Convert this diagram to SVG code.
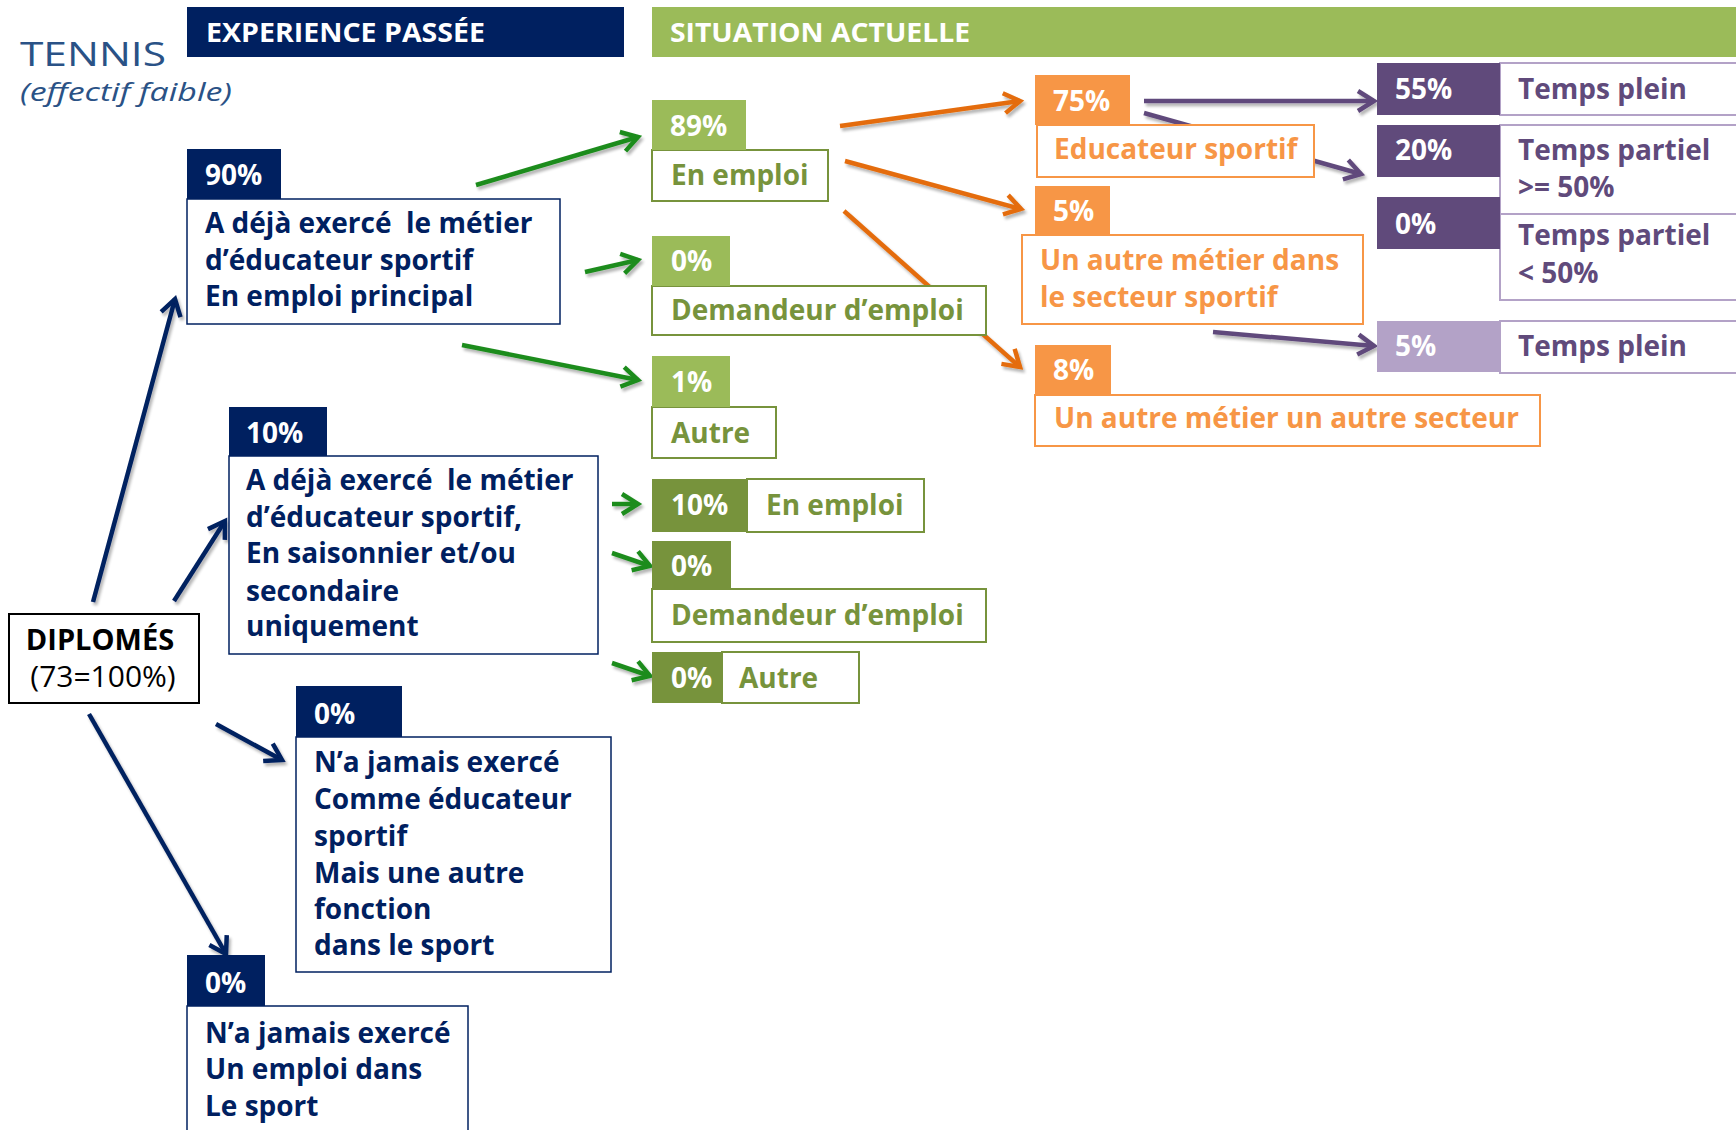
<svg xmlns="http://www.w3.org/2000/svg" width="1736" height="1130" viewBox="0 0 1736 1130">
<style>
text{font-family:"Open Sans","Noto Sans","Liberation Sans",sans-serif;font-weight:700;font-size:28px;white-space:pre}
.w{fill:#fff}
.nv{fill:#002060}
.gr{fill:#77933c}
.or{fill:#f79646}
.pu{fill:#604a7b}
.hd{font-size:27px;fill:#fff}
.fN{fill:#002060}
.fG{fill:#9bbb59}
.fD{fill:#77933c}
.fO{fill:#f79646}
.fP{fill:#604a7b}
.fL{fill:#b3a2c7}
.bN{fill:#fff;stroke:#002060;stroke-width:1.5}
.bG{fill:#fff;stroke:#77933c;stroke-width:2}
.bO{fill:#fff;stroke:#f79646;stroke-width:2}
.bP{fill:#fff;stroke:#b3a2c7;stroke-width:2}
.cn{fill:none;stroke-width:4.5}
.cN{stroke:#002060;marker-end:url(#aN)}
.cG{stroke:#1f8c1f;marker-end:url(#aG)}
.cO{stroke:#e46c0a;marker-end:url(#aO)}
.cP{stroke:#604a7b;marker-end:url(#aP)}
</style>
<defs>
<filter id="sh" x="-10%" y="-10%" width="130%" height="130%">
<feGaussianBlur in="SourceAlpha" stdDeviation="1.5"/>
<feOffset dx="2" dy="3" result="b"/>
<feComponentTransfer><feFuncA type="linear" slope="0.3"/></feComponentTransfer>
<feMerge><feMergeNode/><feMergeNode in="SourceGraphic"/></feMerge>
</filter>
<marker id="aN" viewBox="0 0 26 26" markerWidth="26" markerHeight="26" refX="19" refY="13" orient="auto" markerUnits="userSpaceOnUse" overflow="visible"><path d="M3,3 L19,13 L3,23" fill="none" stroke="#002060" stroke-width="4.5"/></marker>
<marker id="aG" viewBox="0 0 26 26" markerWidth="26" markerHeight="26" refX="19" refY="13" orient="auto" markerUnits="userSpaceOnUse" overflow="visible"><path d="M3,3 L19,13 L3,23" fill="none" stroke="#1f8c1f" stroke-width="4.5"/></marker>
<marker id="aO" viewBox="0 0 26 26" markerWidth="26" markerHeight="26" refX="19" refY="13" orient="auto" markerUnits="userSpaceOnUse" overflow="visible"><path d="M3,3 L19,13 L3,23" fill="none" stroke="#e46c0a" stroke-width="4.5"/></marker>
<marker id="aP" viewBox="0 0 26 26" markerWidth="26" markerHeight="26" refX="19" refY="13" orient="auto" markerUnits="userSpaceOnUse" overflow="visible"><path d="M3,3 L19,13 L3,23" fill="none" stroke="#604a7b" stroke-width="4.5"/></marker>
</defs>
<rect width="1736" height="1130" fill="#fff"/>

<g id="connectors" class="cn" filter="url(#sh)">
<path class="cn cN" d="M93,602 L175,299"/>
<path class="cn cN" d="M174,601 L225,521"/>
<path class="cn cN" d="M216,724 L282,760"/>
<path class="cn cN" d="M89,714 L226,954"/>
<path class="cn cG" d="M476,185 L638,137"/>
<path class="cn cG" d="M585,272 L638,260"/>
<path class="cn cG" d="M462,345 L638,380"/>
<path class="cn cG" d="M612,504 L638,504"/>
<path class="cn cG" d="M612,553 L650,566"/>
<path class="cn cG" d="M612,663 L650,676"/>
<path class="cn cO" d="M840,126 L1020,101"/>
<path class="cn cO" d="M845,161 L1021,209"/>
<path class="cn cO" d="M844,211 L1020,367"/>
<path class="cn cP" d="M1144,101 L1374,101"/>
<path class="cn cP" d="M1144,113 L1361,174"/>
<path class="cn cP" d="M1213,332 L1374,346"/>
</g>

<g id="title">
<text x="20" y="66" style="font-weight:400;font-size:33px;fill:#2a5286" textLength="146" lengthAdjust="spacingAndGlyphs">TENNIS</text>
<text x="20" y="101" style="font-weight:400;font-style:italic;font-size:25px;fill:#2a5286" textLength="212" lengthAdjust="spacingAndGlyphs">(effectif faible)</text>
</g>

<g id="header-experience">
<rect x="187" y="7" width="437" height="50" class="fN"/>
<text x="206" y="42" class="hd" textLength="279" lengthAdjust="spacingAndGlyphs">EXPERIENCE PASSÉE</text>
</g>
<g id="header-situation">
<rect x="652" y="7" width="1090" height="50" class="fG"/>
<text x="670" y="42" class="hd" textLength="300" lengthAdjust="spacingAndGlyphs">SITUATION ACTUELLE</text>
</g>

<g id="diplomes">
<rect x="9" y="614" width="190" height="89" fill="#fff" stroke="#000" stroke-width="2"/>
<text x="100" y="650" text-anchor="middle" style="fill:#000;font-size:29px">DIPLOMÉS</text>
<text x="103" y="687" text-anchor="middle" style="fill:#000;font-weight:400;font-size:30px">(73=100%)</text>
</g>

<g id="n90">
<rect x="187" y="199" width="373" height="125" class="bN"/>
<rect x="187" y="149" width="94" height="50" class="fN"/>
<text x="205" y="185" class="w">90%</text>
<text x="205" y="233" class="nv" xml:space="preserve">A déjà exercé  le métier</text>
<text x="205" y="270" class="nv">d’éducateur sportif</text>
<text x="205" y="306" class="nv">En emploi principal</text>
</g>

<g id="n10">
<rect x="229" y="456" width="369" height="198" class="bN"/>
<rect x="229" y="407" width="98" height="49" class="fN"/>
<text x="246" y="443" class="w">10%</text>
<text x="246" y="490" class="nv" xml:space="preserve">A déjà exercé  le métier</text>
<text x="246" y="527" class="nv">d’éducateur sportif,</text>
<text x="246" y="563" class="nv">En saisonnier et/ou</text>
<text x="246" y="601" class="nv">secondaire</text>
<text x="246" y="636" class="nv">uniquement</text>
</g>

<g id="n0-autre-fonction">
<rect x="296" y="737" width="315" height="235" class="bN"/>
<rect x="296" y="686" width="106" height="51" class="fN"/>
<text x="314" y="724" class="w">0%</text>
<text x="314" y="772" class="nv">N’a jamais exercé</text>
<text x="314" y="809" class="nv">Comme éducateur</text>
<text x="314" y="846" class="nv">sportif</text>
<text x="314" y="883" class="nv">Mais une autre</text>
<text x="314" y="919" class="nv">fonction</text>
<text x="314" y="955" class="nv">dans le sport</text>
</g>

<g id="n0-jamais">
<rect x="187" y="1006" width="281" height="140" class="bN"/>
<rect x="187" y="955" width="78" height="51" class="fN"/>
<text x="205" y="993" class="w">0%</text>
<text x="205" y="1043" class="nv">N’a jamais exercé</text>
<text x="205" y="1079" class="nv">Un emploi dans</text>
<text x="205" y="1116" class="nv">Le sport</text>
</g>

<g id="g89">
<rect x="652" y="150" width="176" height="51" class="bG"/>
<rect x="652" y="100" width="94" height="50" class="fG"/>
<text x="670" y="136" class="w">89%</text>
<text x="671" y="185" class="gr">En emploi</text>
</g>
<g id="g0-demandeur">
<rect x="652" y="286" width="334" height="49" class="bG"/>
<rect x="652" y="236" width="78" height="50" class="fG"/>
<text x="671" y="271" class="w">0%</text>
<text x="671" y="320" class="gr">Demandeur d’emploi</text>
</g>
<g id="g1-autre">
<rect x="652" y="407" width="124" height="51" class="bG"/>
<rect x="652" y="356" width="78" height="51" class="fG"/>
<text x="671" y="392" class="w">1%</text>
<text x="671" y="443" class="gr">Autre</text>
</g>
<g id="g10-emploi">
<rect x="747" y="479" width="177" height="53" class="bG"/>
<rect x="652" y="479" width="95" height="53" class="fD"/>
<text x="671" y="515" class="w">10%</text>
<text x="766" y="515" class="gr">En emploi</text>
</g>
<g id="g0-demandeur2">
<rect x="652" y="589" width="334" height="53" class="bG"/>
<rect x="652" y="541" width="79" height="48" class="fD"/>
<text x="671" y="576" class="w">0%</text>
<text x="671" y="625" class="gr">Demandeur d’emploi</text>
</g>
<g id="g0-autre2">
<rect x="722" y="652" width="137" height="51" class="bG"/>
<rect x="652" y="652" width="70" height="51" class="fD"/>
<text x="671" y="688" class="w">0%</text>
<text x="739" y="688" class="gr">Autre</text>
</g>

<g id="o75">
<rect x="1037" y="125" width="277" height="52" class="bO"/>
<rect x="1035" y="75" width="95" height="50" class="fO"/>
<text x="1053" y="111" class="w">75%</text>
<text x="1054" y="159" class="or">Educateur sportif</text>
</g>
<g id="o5">
<rect x="1022" y="235" width="341" height="89" class="bO"/>
<rect x="1035" y="186" width="75" height="49" class="fO"/>
<text x="1053" y="221" class="w">5%</text>
<text x="1040" y="270" class="or">Un autre métier dans</text>
<text x="1040" y="307" class="or">le secteur sportif</text>
</g>
<g id="o8">
<rect x="1035" y="395" width="505" height="51" class="bO"/>
<rect x="1035" y="345" width="76" height="50" class="fO"/>
<text x="1053" y="380" class="w">8%</text>
<text x="1054" y="428" class="or">Un autre métier un autre secteur</text>
</g>

<g id="p55">
<rect x="1500" y="63" width="240" height="52" class="bP"/>
<rect x="1377" y="63" width="123" height="52" class="fP"/>
<text x="1395" y="99" class="w">55%</text>
<text x="1518" y="99" class="pu">Temps plein</text>
</g>
<g id="p20">
<rect x="1500" y="125" width="240" height="89" class="bP"/>
<rect x="1377" y="125" width="123" height="52" class="fP"/>
<text x="1395" y="160" class="w">20%</text>
<text x="1518" y="160" class="pu">Temps partiel</text>
<text x="1518" y="197" class="pu">&gt;= 50%</text>
</g>
<g id="p0">
<rect x="1500" y="214" width="240" height="86" class="bP"/>
<rect x="1377" y="197" width="123" height="52" class="fP"/>
<text x="1395" y="234" class="w">0%</text>
<text x="1518" y="245" class="pu">Temps partiel</text>
<text x="1518" y="283" class="pu">&lt; 50%</text>
</g>
<g id="p5">
<rect x="1500" y="321" width="240" height="52" class="bP"/>
<rect x="1377" y="321" width="123" height="51" class="fL"/>
<text x="1395" y="356" class="w">5%</text>
<text x="1518" y="356" class="pu">Temps plein</text>
</g>
</svg>
